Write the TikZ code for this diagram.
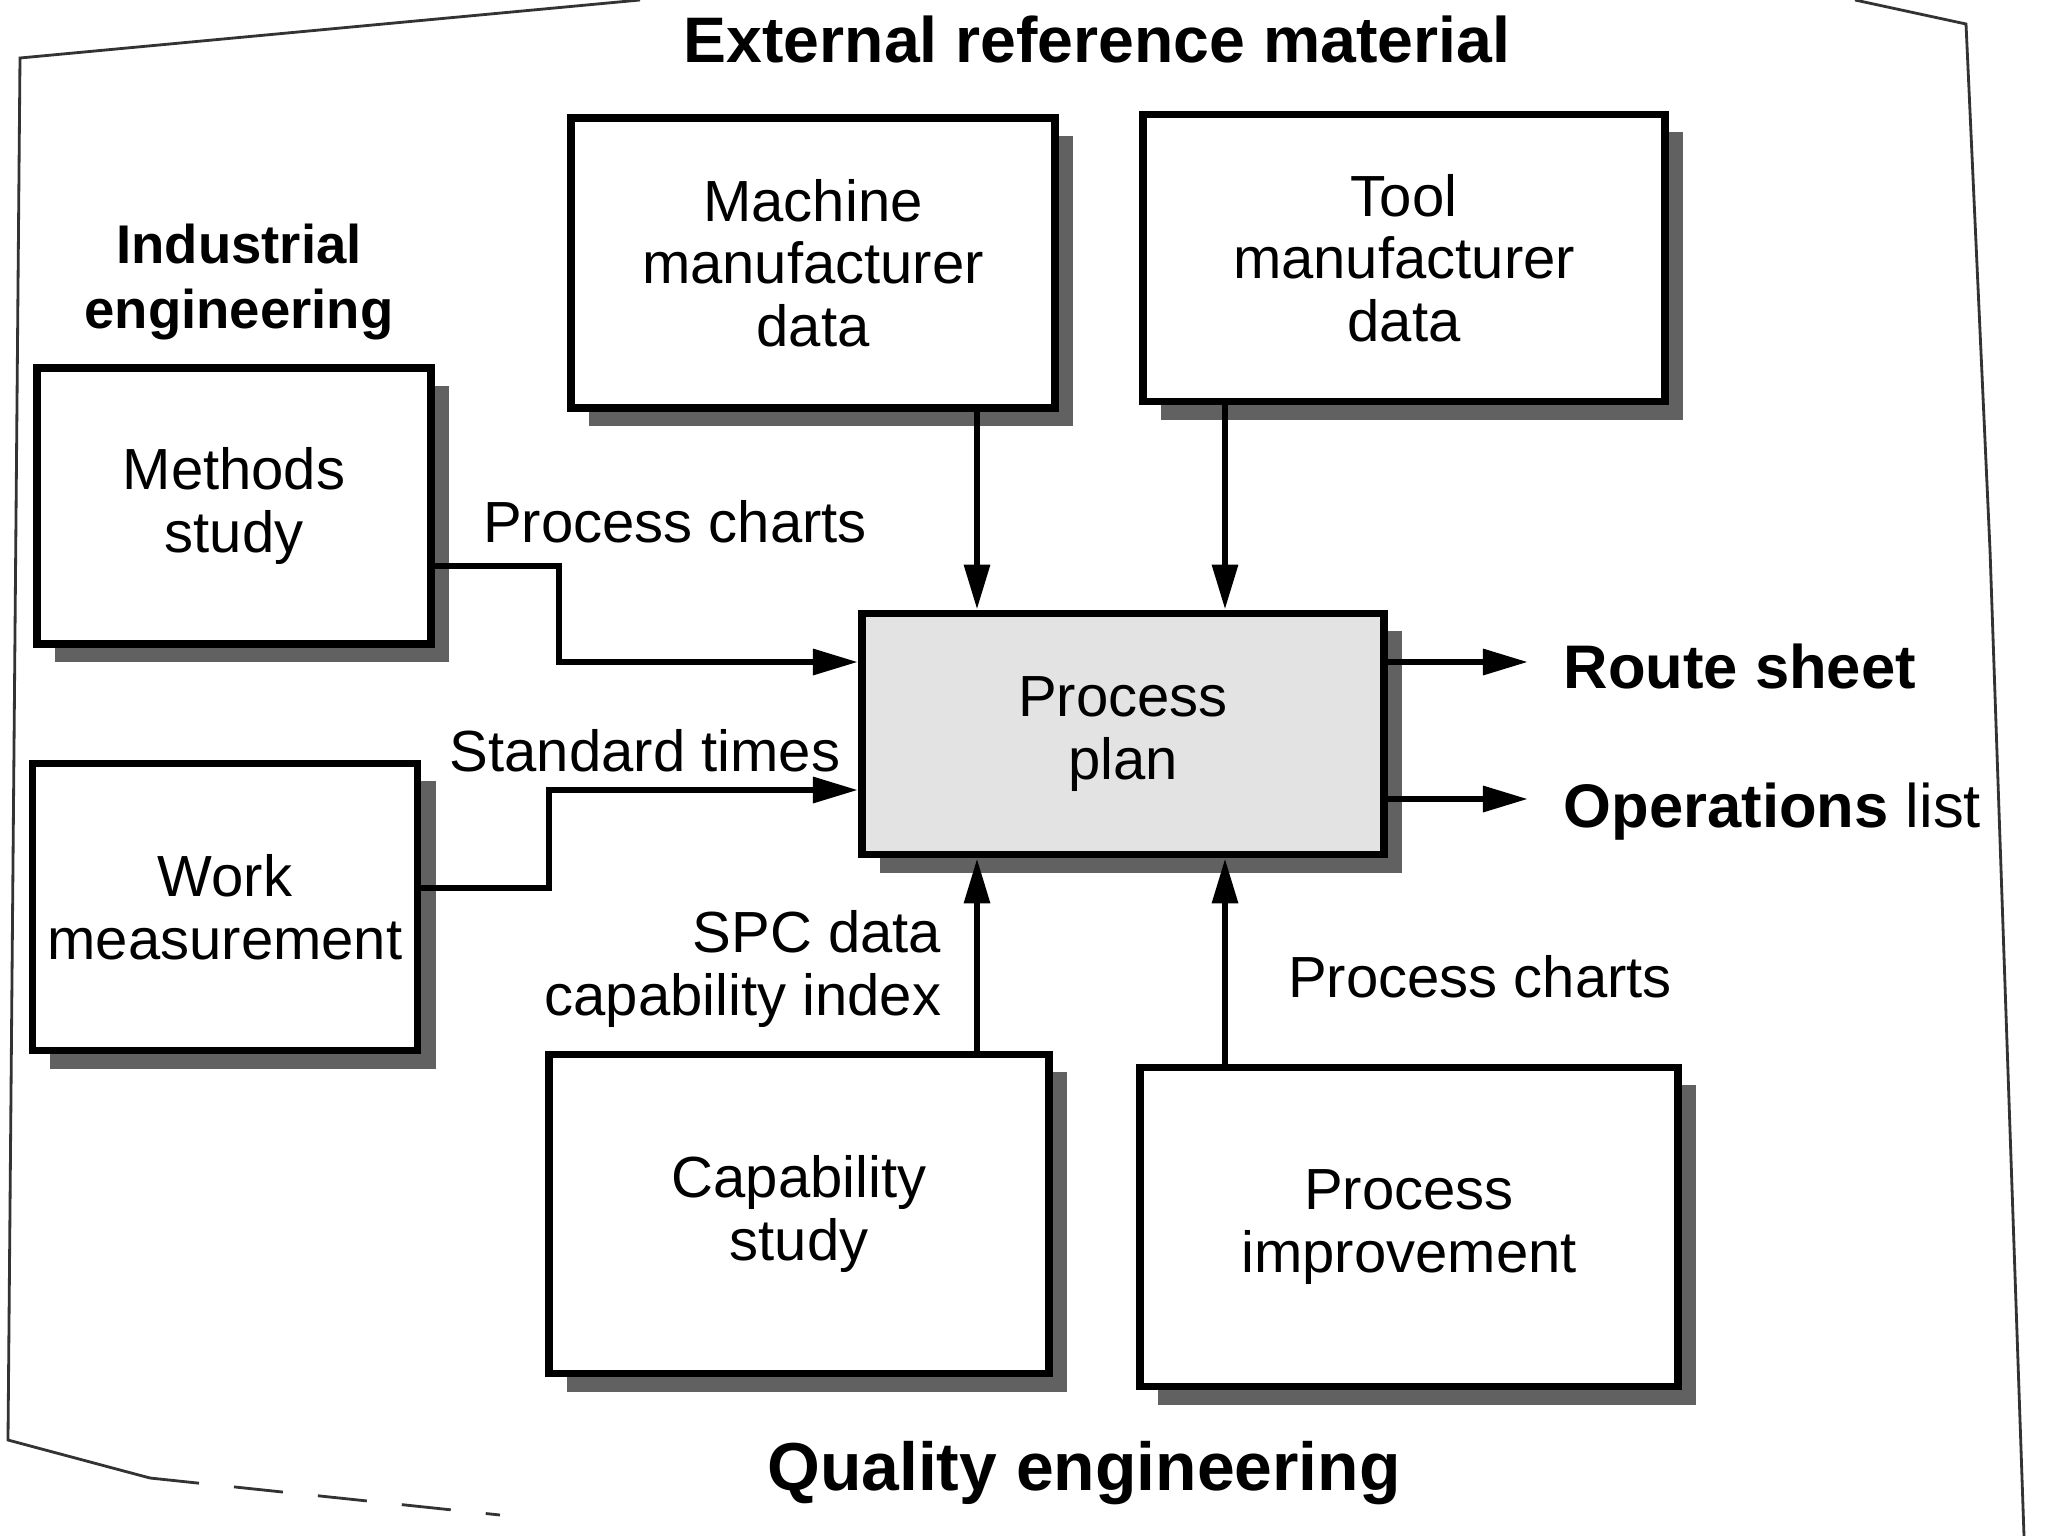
\documentclass[tikz,border=0pt]{standalone}
\usepackage{fontspec}
\setmainfont{Liberation Sans}
\usetikzlibrary{arrows.meta,shadows}
\tikzset{
  blk/.style={draw=black,line width=2.2pt,fill=white,align=center,
    font=\fontsize{16.5}{17.8}\selectfont,inner sep=0pt,
    drop shadow={shadow xshift=0.18cm,shadow yshift=-0.18cm,fill=black!62,opacity=1}},
  planbox/.style={blk,fill=black!11},
  arr/.style={line width=1.8pt,-{Triangle[length=4.5mm,width=2.5mm]}},
  lbl/.style={font=\fontsize{16.5}{17.8}\selectfont,align=center,inner sep=0pt},
  hdr/.style={font=\bfseries\fontsize{17.5}{21}\selectfont,align=center,inner sep=0pt},
  edge/.style={line width=0.8pt,black!80}
}
\begin{document}
\begin{tikzpicture}[x=0.01cm,y=-0.01cm]
\useasboundingbox (0,0) rectangle (2048,1536);
% page edges of the scan
\draw[edge] (640,0) -- (20,58) -- (8,1440) -- (150,1478);
\draw[edge,dash pattern=on 14pt off 10pt] (150,1478) -- (500,1515);
\draw[edge] (1855,0) -- (1966,24) -- (1990,550) -- (2024,1536);

% boxes
\node[blk,minimum width=4.84cm,minimum height=2.90cm] (mach) at (813,263) {Machine\\manufacturer\\data};
\node[blk,minimum width=5.21cm,minimum height=2.87cm] (tool) at (1404,258) {Tool\\manufacturer\\data};
\node[blk,minimum width=3.94cm,minimum height=2.76cm] (meth) at (234,506) {Methods\\study};
\node[blk,minimum width=3.85cm,minimum height=2.87cm] (work) at (225,907) {Work\\measurement};
\node[planbox,minimum width=5.22cm,minimum height=2.41cm] (plan) at (1123,734) {Process\\plan};
\node[blk,minimum width=5.00cm,minimum height=3.19cm] (cap) at (799,1214) {Capability\\study};
\node[blk,minimum width=5.38cm,minimum height=3.19cm] (impr) at (1409,1227) {Process\\improvement};

% headings
\node[hdr,font=\bfseries\fontsize{18.3}{21}\selectfont] (ext) at (1097,39) {External reference material};
\node[hdr,font=\bfseries\fontsize{15.5}{18.5}\selectfont] (ind) at (239,282) {Industrial\\engineering};
\node[hdr,font=\bfseries\fontsize{19.3}{21}\selectfont] (qual) at (1084,1473) {Quality engineering};
\node[hdr,anchor=west] (route) at (1563,666) {Route sheet};
\node[hdr,anchor=west] (ops) at (1563,812) {Operations \mdseries list};

% connector labels
\node[lbl] (pc1) at (675,522) {Process charts};
\node[lbl] (st) at (645,751) {Standard times};
\node[lbl,align=right,anchor=east] (spc) at (942,969) {SPC data\\capability index};
\node[lbl] (pc2) at (1480,977) {Process charts};

% connector guides
\coordinate (xa) at (977,0);
\coordinate (xb) at (1225,0);
\coordinate (mb) at (559,566);
\coordinate (ya) at (0,662);
\coordinate (wb) at (549,888);
\coordinate (yb) at (0,790);
\coordinate (yr) at (0,662);
\coordinate (yo) at (0,799);
\coordinate (re) at (1528,662);
\coordinate (oe) at (1528,799);

% connectors
\draw[arr] (mach.south -| xa) -- (plan.north -| xa);
\draw[arr] (tool.south -| xb) -- (plan.north -| xb);
\draw[arr] (meth.east |- mb) -- (mb) |- (plan.west |- ya);
\draw[arr] (work.east |- wb) -- (wb) |- (plan.west |- yb);
\draw[arr] (cap.north -| xa) -- (plan.south -| xa);
\draw[arr] (impr.north -| xb) -- (plan.south -| xb);
\draw[arr] (plan.east |- yr) -- (re);
\draw[arr] (plan.east |- yo) -- (oe);
\end{tikzpicture}
\end{document}
